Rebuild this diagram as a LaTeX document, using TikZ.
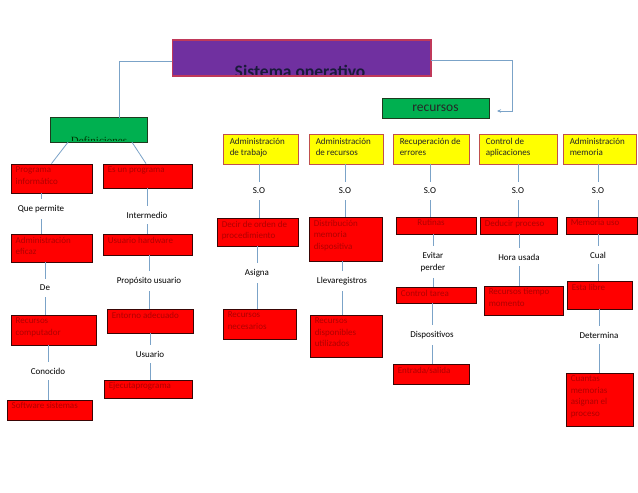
\documentclass[tikz,border=0pt]{standalone}
\usepackage{fontspec}
\setmainfont{Carlito}
\newfontfamily\cf{Carlito}
\newfontfamily\serfam{Liberation Serif}
\usetikzlibrary{arrows.meta}
\definecolor{cpurple}{HTML}{7030A0}
\definecolor{cpborder}{HTML}{C0395A}
\definecolor{cgreen}{HTML}{00B050}
\definecolor{cgborder}{HTML}{1E3A1E}
\definecolor{cyellow}{HTML}{FFFF00}
\definecolor{cyborder}{HTML}{C0504D}
\definecolor{cred}{HTML}{FF0000}
\definecolor{crborder}{HTML}{3A0505}
\definecolor{crtext}{HTML}{B00000}
\definecolor{cconn}{HTML}{7BA3C8}
\definecolor{ctitle}{HTML}{1A1A3A}
\tikzset{
  redbox/.style={draw=crborder, fill=cred, line width=0.9pt, inner sep=0pt},
  yelbox/.style={draw=cyborder, fill=cyellow, line width=0.9pt, inner sep=0pt},
  rtext/.style={text=crtext, font=\cf\fontsize{9}{11.5}\selectfont, align=left, inner sep=0pt},
  ytext/.style={text=black!85, font=\cf\fontsize{9}{11}\selectfont, align=left, inner sep=0pt},
  lbl/.style={text=black, font=\cf\fontsize{9}{11.5}\selectfont, align=center, inner xsep=2pt, inner ysep=6pt},
  conn/.style={draw=cconn, line width=0.8pt},
}
\newcommand\rbox[6]{%
  \node[redbox, minimum width={#4-#2}, minimum height={#5-#3}] (#1) at ({(#2+#4)/2},{(#3+#5)/2}) {};
  \node[rtext, anchor=north west] at ([xshift=5pt,yshift=-3pt]#1.north west) {#6};}
\newcommand\ybox[6]{%
  \node[yelbox, minimum width={#4-#2}, minimum height={#5-#3}] (#1) at ({(#2+#4)/2},{(#3+#5)/2}) {};
  \node[ytext, anchor=north west] at ([xshift=7pt,yshift=-4pt]#1.north west) {#6};}
\begin{document}
\begin{tikzpicture}[x=1pt,y=-1pt]
\useasboundingbox[fill=white] (0,0) rectangle (638,493);

% title box
\node[fill=cpurple, minimum width=258, minimum height=36, inner sep=0pt] (so) at (301.5,58) {};
\begin{scope}
  \clip (so.north west) rectangle ([yshift=2pt]so.south east);
  \node[anchor=base, inner sep=0pt, text=ctitle, font=\cf\bfseries\fontsize{17.5}{19}\selectfont] (sot) at (300,77) {Sistema operativo};
\end{scope}
\draw[cpborder, line width=1.6pt] (so.north west) rectangle (so.south east);

% Definiciones box
\node[fill=cgreen, minimum width=96, minimum height=24, inner sep=0pt] (def) at (99,130) {};
\begin{scope}
  \clip (def.north west) rectangle ([yshift=1.5pt]def.south east);
  \node[anchor=base, inner sep=0pt, text=black!80!green, font=\serfam\fontsize{11}{12}\selectfont] (deft) at (99,144) {Definiciones};
\end{scope}
\draw[cgborder, line width=0.9pt] (def.north west) rectangle (def.south east);

% recursos box
\node[fill=cgreen, draw=cgborder, line width=0.9pt, minimum width=107, minimum height=20, inner sep=0pt,
      text=black!85, font=\cf\fontsize{13.5}{15}\selectfont] (rec) at (435.5,108) {recursos};

% top connectors
\draw[conn] ([yshift=-3pt]so.west) -| ([xshift=20pt]def.north);
\coordinate (tip) at (497,111);
\draw[conn, -{Stealth[length=4pt,width=3.5pt]}] ([yshift=-2pt]so.east) -| ([xshift=23pt]rec.east) |- (tip);

% left columns
\rbox{prog}{11}{164}{92}{193}{Programa\\informático}
\rbox{esun}{103}{164}{192}{188}{Es un programa}
\rbox{adm}{11}{234}{92}{262}{Administración\\eficaz}
\rbox{usu}{103}{234}{192}{255}{Usuario hardware}
\rbox{rcomp}{11}{315}{96}{345}{Recursos\\computador}
\rbox{soft}{7}{400}{92}{420}{Software sistemas}
\rbox{ent}{107}{309}{193}{333}{Entorno adecuado}
\rbox{eje}{104}{380}{192}{398}{Ejecutaprograma}

\draw[conn] ([xshift=-31pt]def.south) -- (prog.north);
\draw[conn] ([xshift=33pt]def.south) -- ([xshift=-1.5pt]esun.north);

\node[lbl] (qp) at (41,209) {Que permite};
\node[lbl] (de) at (45,288) {De};
\node[lbl] (con) at (48,371) {Conocido};
\node[lbl] (inter) at (147,215) {Intermedio};
\node[lbl] (prop) at (149,281) {Propósito usuario};
\node[lbl] (usr) at (150,354) {Usuario};

\foreach \a/\l/\b in {prog/qp/adm, adm/de/rcomp, rcomp/con/soft, esun/inter/usu, usu/prop/ent, ent/usr/eje}{
  \draw[conn] (\a.south -| \l) -- (\l);
  \draw[conn] (\l) -- (\b.north -| \l);
}

% yellow boxes
\ybox{ya}{223}{134}{298}{164}{Administración\\de trabajo}
\ybox{yb}{309}{134}{383}{164}{Administración\\de recursos}
\ybox{yc}{393}{134}{469}{164}{Recuperación de\\errores}
\ybox{yd}{479}{134}{557}{164}{Control de\\aplicaciones}
\ybox{ye}{563}{134}{636}{164}{Administración\\memoria}

% right red boxes
\rbox{dec}{217}{218}{298}{246}{Decir de orden de\\procedimiento}
\rbox{rn}{223}{309}{296}{339}{Recursos\\necesarios}
\rbox{dist}{309}{217}{382}{261}{Distribución\\memoria\\dispositiva}
\rbox{rdu}{310}{315}{382}{357}{Recursos\\disponibles\\utilizados}
\node[redbox, minimum width=80, minimum height=17] (rut) at (436,225.5) {};
\node[rtext, anchor=north] at ([xshift=-5pt,yshift=-3pt]rut.north) {Rutinas};
\rbox{ct}{396}{287}{476}{303}{Control tarea}
\rbox{es}{393}{364}{469}{384}{Entrada/salida}
\rbox{ded}{480}{217}{557}{234}{Deducir proceso}
\rbox{rtm}{484}{286}{563}{315}{Recursos tiempo\\momento}
\rbox{mu}{566}{217}{637}{234}{Memoria uso}
\rbox{el}{567}{281}{632}{309}{Esta libre}
\rbox{cm}{566}{373}{633}{426}{Cuantas\\memorias\\asignan el\\proceso}

% labels
\node[lbl] (so1) at (259,191) {S.O};
\node[lbl] (as) at (257,273) {Asigna};
\node[lbl] (so2) at (345,191) {S.O};
\node[lbl] (lr) at (342,281) {Llevaregistros};
\node[lbl] (so3) at (430,191) {S.O};
\node[lbl] (ep) at (433,262) {Evitar\\perder};
\node[lbl] (dp) at (432,335) {Dispositivos};
\node[lbl] (so4) at (518,191) {S.O};
\node[lbl] (hu) at (519,257) {Hora usada};
\node[lbl] (so5) at (598,191) {S.O};
\node[lbl] (cual) at (598,255) {Cual};
\node[lbl] (det) at (599,335) {Determina};

\foreach \a/\l/\b in {ya/so1/dec, dec/as/rn, yb/so2/dist, dist/lr/rdu, yc/so3/rut, rut/ep/ct, ct/dp/es,
                      yd/so4/ded, ded/hu/rtm, ye/so5/mu, mu/cual/el, el/det/cm}{
  \draw[conn] (\a.south -| \l) -- (\l);
  \draw[conn] (\l) -- (\b.north -| \l);
}
\end{tikzpicture}
\end{document}
